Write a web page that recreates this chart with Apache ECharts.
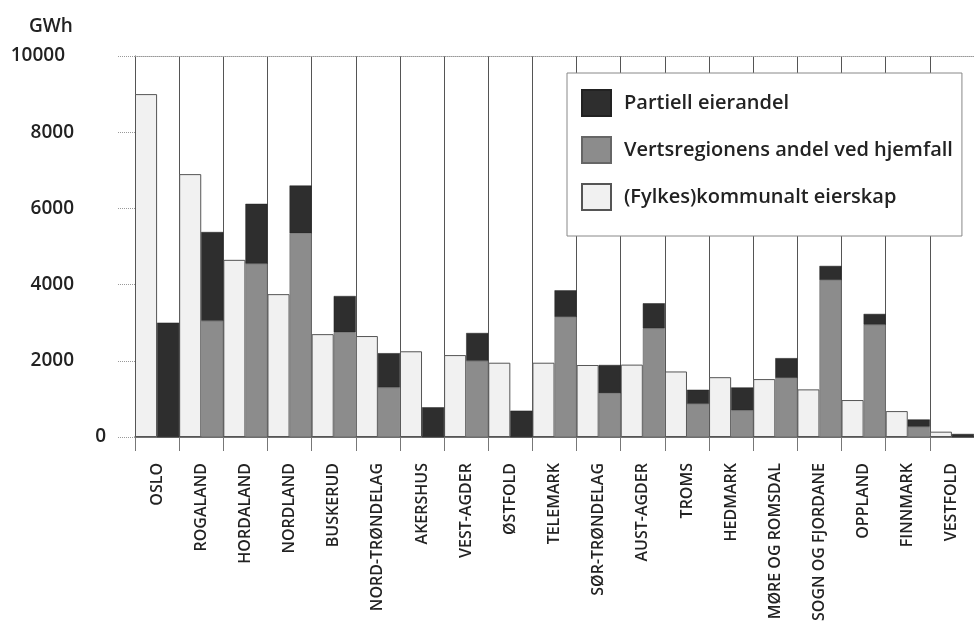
<!DOCTYPE html>
<html lang="no">
  <head>
    <meta charset="UTF-8" />
    <title>GWh per fylke</title>
    <style>
      * {
        padding: 0;
        margin: 0;
      }
      #chart {
        width: 974px;
        height: 628px;
        background: #fff;
      }
    </style>
    <script src="https://cdn.jsdelivr.net/npm/echarts@6/dist/echarts.min.js"></script>
  </head>
  <body>
    <div id="chart"></div>
    <script type="text/javascript">
      const categories = ['OSLO', 'ROGALAND', 'HORDALAND', 'NORDLAND', 'BUSKERUD', 'NORD-TRØNDELAG', 'AKERSHUS', 'VEST-AGDER', 'ØSTFOLD', 'TELEMARK', 'SØR-TRØNDELAG', 'AUST-AGDER', 'TROMS', 'HEDMARK', 'MØRE OG ROMSDAL', 'SOGN OG FJORDANE', 'OPPLAND', 'FINNMARK', 'VESTFOLD']
      // (Fylkes)kommunalt eierskap
      const kommunalt = [9000, 6900, 4650, 3750, 2700, 2650, 2250, 2150, 1950, 1950, 1890, 1900, 1720, 1570, 1520, 1250, 970, 680, 140]
      // Vertsregionens andel ved hjemfall
      const verts = [0, 3050, 4550, 5350, 2750, 1300, 0, 2000, 0, 3150, 1150, 2850, 870, 700, 1550, 4120, 2950, 270, 0]
      // Partiell eierandel
      const partiell = [3000, 2330, 1570, 1250, 950, 900, 780, 730, 690, 700, 740, 660, 370, 600, 520, 370, 280, 190, 80]
      const yTicks = [0, 2000, 4000, 6000, 8000, 10000]

      const font = '"Open Sans", sans-serif'
      const chart = echarts.init(document.getElementById('chart'))

      const option = {
        animation: false,
        backgroundColor: '#fff',
        title: {
          text: 'GWh',
          left: 24,
          top: 12,
          textStyle: { fontFamily: font, fontSize: 19, fontWeight: 600, color: '#222' },
        },
        legend: {
          orient: 'vertical',
          left: 567,
          top: 73,
          padding: [16, 9, 25, 14],
          itemWidth: 29,
          itemHeight: 26,
          itemGap: 19,
          backgroundColor: '#fff',
          borderColor: '#888',
          borderWidth: 1,
          selectedMode: false,
          icon: 'rect',
          data: ['Partiell eierandel', 'Vertsregionens andel ved hjemfall', '(Fylkes)kommunalt eierskap'],
          textStyle: { fontFamily: font, fontSize: 20, fontWeight: 600, color: '#222', padding: [0, 0, 0, 8] },
        },
        grid: { left: 135, right: -10, top: 56, bottom: 191 },
        xAxis: [
          {
            type: 'category',
            data: categories,
            axisLine: { lineStyle: { color: '#444', width: 1.5 } },
            axisTick: { show: true, length: 14, interval: 0, lineStyle: { color: '#777' } },
            splitLine: { show: true, interval: 0, lineStyle: { color: '#555', width: 1 } },
            axisLabel: {
              interval: 0,
              rotate: 90,
              margin: 26,
              fontFamily: font,
              fontSize: 16,
              fontWeight: 600,
              color: '#222',
            },
          },
          {
            type: 'category',
            data: categories,
            position: 'top',
            axisLine: { show: true, lineStyle: { color: '#999', type: 'dotted' } },
            axisTick: { show: false },
            axisLabel: { show: false },
          },
        ],
        yAxis: {
          type: 'value',
          min: 0,
          max: 10000,
          interval: 2000,
          axisLine: { show: true, lineStyle: { color: '#555' } },
          axisTick: { show: true, length: 17, lineStyle: { color: '#999', type: 'dotted' } },
          splitLine: { show: false },
          axisLabel: {
            margin: 29,
            formatter: function (v) {
              if (v === 0) return '{z|0}'
              if (v === 10000) return '{t|' + v + '}'
              return '{n|' + v + '}'
            },
            rich: {
              z: { fontFamily: font, fontSize: 19, fontWeight: 600, color: '#222' },
              n: { fontFamily: font, fontSize: 19, fontWeight: 600, color: '#222', padding: [0, 32, 0, 0] },
              t: { fontFamily: font, fontSize: 19, fontWeight: 600, color: '#222', padding: [0, 41, 0, 0] },
            },
          },
        },
        series: [
          {
            name: '(Fylkes)kommunalt eierskap',
            type: 'bar',
            data: kommunalt,
            barGap: '0%',
            barCategoryGap: '0%',
            itemStyle: { color: '#f1f1f1', borderColor: '#555', borderWidth: 1 },
          },
          {
            name: 'Vertsregionens andel ved hjemfall',
            type: 'bar',
            stack: 'vert',
            data: verts,
            barGap: '0%',
            barCategoryGap: '0%',
            itemStyle: { color: '#8c8c8c', borderColor: '#666', borderWidth: 0.5 },
          },
          {
            name: 'Partiell eierandel',
            type: 'bar',
            stack: 'vert',
            data: partiell,
            barGap: '0%',
            barCategoryGap: '0%',
            itemStyle: { color: '#2e2e2e', borderColor: '#222', borderWidth: 0.5 },
          },
        ],
      }

      chart.setOption(option)
    </script>
  </body>
</html>
